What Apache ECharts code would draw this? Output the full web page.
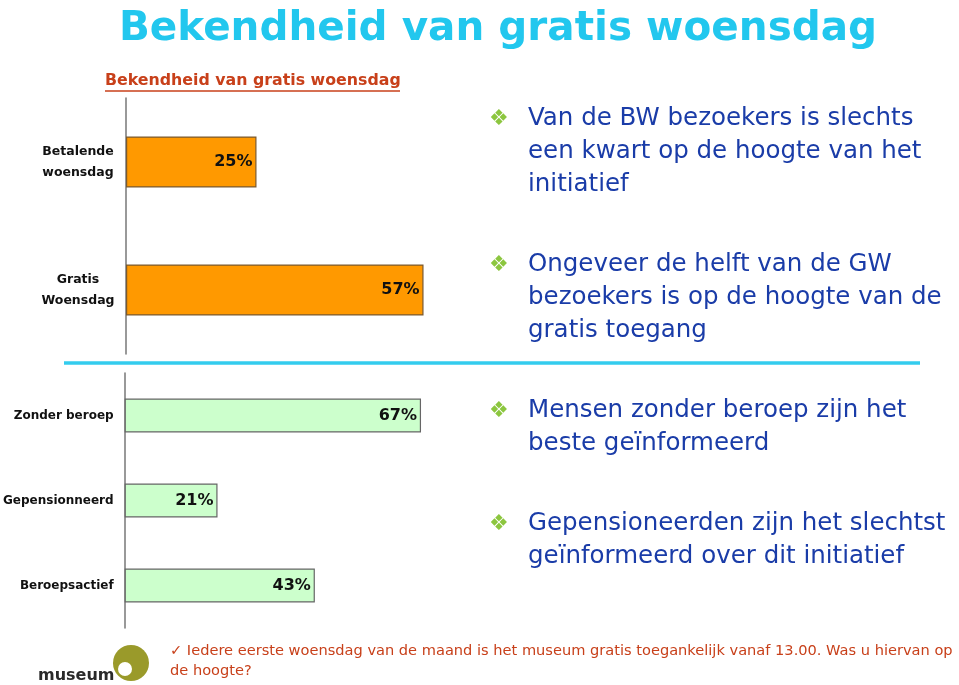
<!DOCTYPE html>
<html><head><meta charset="utf-8">
<script src="https://cdn.jsdelivr.net/npm/echarts@6/dist/echarts.min.js"></script>
<style>html,body{margin:0;padding:0;background:#fff}#c{width:959px;height:685px}</style>
</head><body><div id="c"></div>
<script>
const topCategories = ['Betalende\nwoensdag', 'Gratis\nWoensdag'];
const topValues = [25, 57];
const bottomCategories = ['Zonder beroep', 'Gepensionneerd', 'Beroepsactief'];
const bottomValues = [67, 21, 43];
const mainTitle = 'Bekendheid van gratis woensdag';
const subTitle = 'Bekendheid van gratis woensdag';
const bullets = [
  ['Van de BW bezoekers is slechts', 'een kwart op de hoogte van het', 'initiatief'],
  ['Ongeveer de helft van de GW', 'bezoekers is op de hoogte van de', 'gratis toegang'],
  ['Mensen zonder beroep zijn het', 'beste geïnformeerd'],
  ['Gepensioneerden zijn het slechtst', 'geïnformeerd over dit initiatief']
];
const footerLines = ['✓ Iedere eerste woensdag van de maand is het museum gratis toegankelijk vanaf 13.00. Was u hiervan op', 'de hoogte?'];

const FONT = 'DejaVu Sans';
const chart = echarts.init(document.getElementById('c'));

const bulletTops = [119, 265, 411, 524];
const graphics = [];
graphics.push({type:'text', x:498, y:29, style:{text: mainTitle, font:'bold 40.5px "DejaVu Sans"', fill:'#22C7EE', align:'center', verticalAlign:'middle'}});
graphics.push({type:'text', x:105, y:81, style:{text: subTitle, font:'bold 15.8px "DejaVu Sans"', fill:'#C8401A', verticalAlign:'middle'}});
graphics.push({type:'line', shape:{x1:105, y1:91, x2:400, y2:91}, style:{stroke:'#C8401A', lineWidth:1.5}});
graphics.push({type:'line', shape:{x1:64, y1:363, x2:920, y2:363}, style:{stroke:'#33CCEE', lineWidth:3.5}});
bullets.forEach((lines, i) => {
  const y0 = bulletTops[i];
  graphics.push({type:'text', x:489, y:y0, style:{text:'❖', font:'22px "DejaVu Sans"', fill:'#8CC63F', verticalAlign:'middle'}});
  lines.forEach((ln, j) => {
    graphics.push({type:'text', x:528, y:y0 + j*33, style:{text: ln, font:'24.5px "DejaVu Sans"', fill:'#1A3CA8', verticalAlign:'middle'}});
  });
});
footerLines.forEach((ln, j) => {
  graphics.push({type:'text', x:170, y:651 + j*20, style:{text: ln, font:'14.6px "DejaVu Sans"', fill:'#C8401A', verticalAlign:'middle'}});
});
// museum logo
graphics.push({type:'text', x:38, y:676, style:{text:'museum', font:'bold 16px "DejaVu Sans"', fill:'#2a2a2a', verticalAlign:'middle'}});
graphics.push({type:'circle', shape:{cx:131, cy:663, r:18}, style:{fill:'#9A9A2A'}});
graphics.push({type:'circle', shape:{cx:125, cy:669, r:7}, style:{fill:'#ffffff'}});

const labelStyle = {show:true, position:'insideRight', distance:4, color:'#111', fontFamily:FONT, fontWeight:'bold', fontSize:16, formatter: p => p.value + '%'};

chart.setOption({
  animation:false,
  graphic: graphics,
  grid:[
    {left:126, top:98, width:522, height:256},
    {left:124, top:373, width:443, height:255}
  ],
  xAxis:[
    {gridIndex:0, type:'value', min:0, max:100, show:false},
    {gridIndex:1, type:'value', min:0, max:100, show:false}
  ],
  yAxis:[
    {gridIndex:0, type:'category', inverse:true, data: topCategories,
     axisLine:{show:true, lineStyle:{color:'#777', width:1.5}}, axisTick:{show:false},
     axisLabel:{margin:48, color:'#111', fontFamily:FONT, fontWeight:'bold', fontSize:12.5, lineHeight:21, align:'center'}},
    {gridIndex:1, type:'category', inverse:true, data: bottomCategories,
     axisLine:{show:true, lineStyle:{color:'#777', width:1.5}}, axisTick:{show:false},
     axisLabel:{margin:11, color:'#111', fontFamily:FONT, fontWeight:'bold', fontSize:12}}
  ],
  series:[
    {type:'bar', xAxisIndex:0, yAxisIndex:0, data: topValues, barWidth:51,
     itemStyle:{color:'#FF9900', borderColor:'#7A5A30', borderWidth:1.2}, label: labelStyle},
    {type:'bar', xAxisIndex:1, yAxisIndex:1, data: bottomValues, barWidth:34,
     itemStyle:{color:'#CCFFCC', borderColor:'#666', borderWidth:1.2}, label: labelStyle}
  ]
});
</script></body></html>
